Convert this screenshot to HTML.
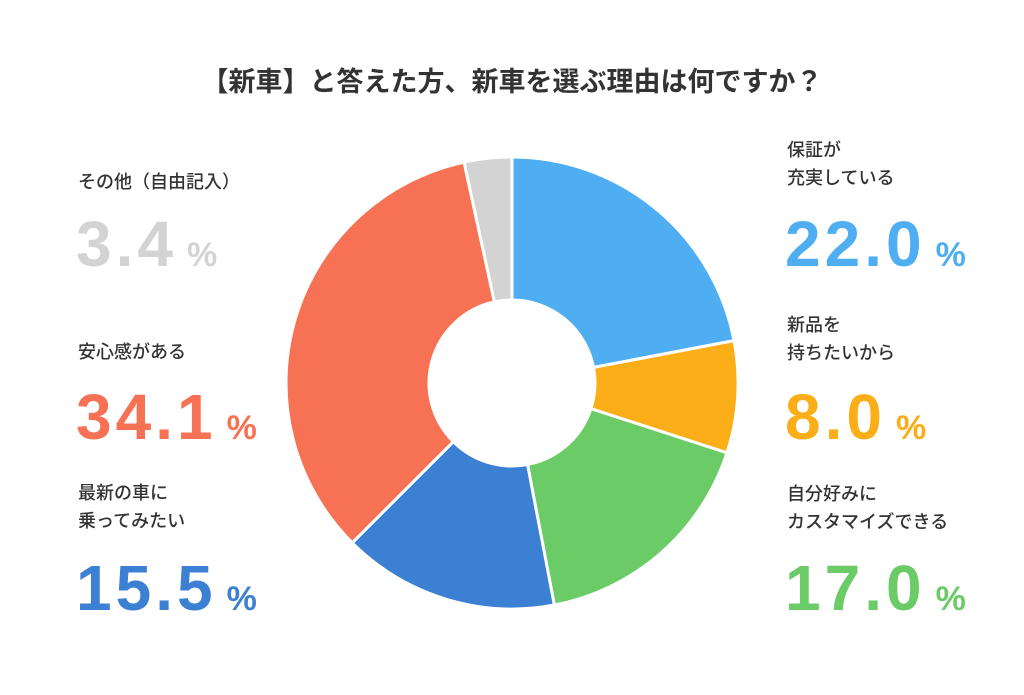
<!DOCTYPE html>
<html><head><meta charset="utf-8">
<style>
body{margin:0;width:1024px;height:695px;background:#fff;overflow:hidden;position:relative;font-family:"Liberation Sans","Noto Sans CJK JP",sans-serif;}
.t{position:absolute;left:0;width:1024px;top:60px;text-align:center;font-size:27px;font-weight:bold;color:#333;}
.l{position:absolute;font-size:18px;color:#333;line-height:28px;font-weight:500;}
.n{position:absolute;font-size:64px;font-weight:900;line-height:64px;letter-spacing:4px;}
.n span{font-size:34px;margin-left:10px;letter-spacing:0;}
svg{position:absolute;left:0;top:0;}
</style></head><body>
<div class="t">【新車】と答えた方、新車を選ぶ理由は何ですか？</div>
<svg id="s" width="1024" height="695"></svg>
<div class="l" style="left:78px;top:168px">その他（自由記入）</div>
<div class="n" style="left:76px;top:212px;color:#d3d3d3">3.4<span>%</span></div>
<div class="l" style="left:78px;top:338px">安心感がある</div>
<div class="n" style="left:76px;top:385px;color:#f77254">34.1<span>%</span></div>
<div class="l" style="left:78px;top:479px">最新の車に<br>乗ってみたい</div>
<div class="n" style="left:76px;top:556px;color:#3c80d4">15.5<span>%</span></div>
<div class="l" style="left:787px;top:136px">保証が<br>充実している</div>
<div class="n" style="left:785px;top:212px;color:#4faef2">22.0<span>%</span></div>
<div class="l" style="left:787px;top:311px">新品を<br>持ちたいから</div>
<div class="n" style="left:785px;top:385px;color:#fbae17">8.0<span>%</span></div>
<div class="l" style="left:787px;top:480px">自分好みに<br>カスタマイズできる</div>
<div class="n" style="left:785px;top:556px;color:#6bcb67">17.0<span>%</span></div>
<script>
var d=[[22.0,'#4faef2'],[8.0,'#fbae17'],[17.0,'#6bcb67'],[15.5,'#3c80d4'],[34.1,'#f77254'],[3.4,'#d3d3d3']];
var cx=512,cy=383,R=226,r=83,a=0,h='',tot=100;
function p(rad,ang){return [cx+rad*Math.sin(ang),cy-rad*Math.cos(ang)];}
d.forEach(function(s){var a0=a/tot*2*Math.PI;a+=s[0];var a1=a/tot*2*Math.PI;var lg=(a1-a0)>Math.PI?1:0;
var A=p(R,a0),B=p(R,a1),C=p(r,a1),D=p(r,a0);
h+='<path d="M'+A+' A'+R+' '+R+' 0 '+lg+' 1 '+B+' L'+C+' A'+r+' '+r+' 0 '+lg+' 0 '+D+'Z" fill="'+s[1]+'" stroke="#fff" stroke-width="3"/>';});
document.getElementById('s').innerHTML=h;
</script>
</body></html>
